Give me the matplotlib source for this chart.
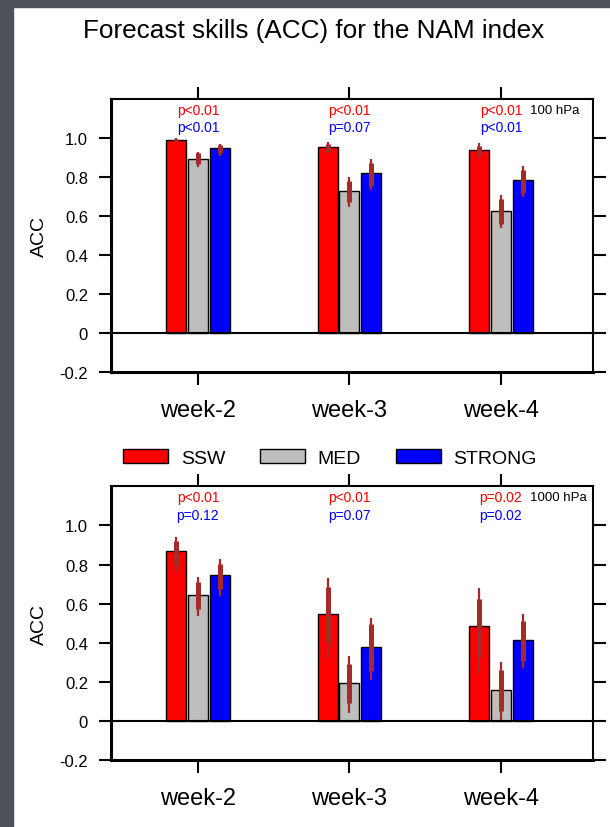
"""Forecast skill (ACC) of the NAM index at 100 and 1000 hPa, two bar panels."""

import matplotlib

matplotlib.use("Agg")
import matplotlib.pyplot as plt
import numpy as np
from matplotlib.patches import Rectangle

plt.rcParams["font.family"] = ["Liberation Sans", "DejaVu Sans"]

weeks = ["week-2", "week-3", "week-4"]
groups = ["SSW", "MED", "STRONG"]
colors = ["#ff0000", "#bebebe", "#0000ff"]
yticks = [-0.2, 0, 0.2, 0.4, 0.6, 0.8, 1.0]
yticklabels = ["-0.2", "0", "0.2", "0.4", "0.6", "0.8", "1.0"]

# 100 hPa
ssw_100 = [0.99, 0.955, 0.937]
med_100 = [0.895, 0.727, 0.626]
strong_100 = [0.947, 0.82, 0.785]
ssw_100_thin = [(0.98, 1.0), (0.923, 0.978), (0.896, 0.974)]
med_100_thin = [(0.85, 0.93), (0.645, 0.80), (0.54, 0.708)]
strong_100_thin = [(0.908, 0.969), (0.735, 0.892), (0.696, 0.858)]
ssw_100_thick = [(0.985, 0.995), (0.93, 0.97), (0.91, 0.96)]
med_100_thick = [(0.867, 0.923), (0.67, 0.78), (0.559, 0.687)]
strong_100_thick = [(0.923, 0.964), (0.755, 0.872), (0.718, 0.836)]
p_ssw_100 = ["p<0.01", "p<0.01", "p<0.01"]
p_strong_100 = ["p<0.01", "p=0.07", "p<0.01"]

# 1000 hPa
ssw_1000 = [0.87, 0.544, 0.487]
med_1000 = [0.643, 0.192, 0.156]
strong_1000 = [0.744, 0.376, 0.412]
ssw_1000_thin = [(0.76, 0.94), (0.322, 0.732), (0.24, 0.68)]
med_1000_thin = [(0.535, 0.735), (0.04, 0.33), (0.0, 0.30)]
strong_1000_thin = [(0.641, 0.826), (0.209, 0.527), (0.269, 0.547)]
ssw_1000_thick = [(0.80, 0.923), (0.402, 0.687), (0.325, 0.624)]
med_1000_thick = [(0.573, 0.71), (0.09, 0.29), (0.048, 0.26)]
strong_1000_thick = [(0.675, 0.804), (0.256, 0.496), (0.305, 0.51)]
p_ssw_1000 = ["p<0.01", "p<0.01", "p=0.02"]
p_strong_1000 = ["p=0.12", "p=0.07", "p=0.02"]

ERR = "#a52a2a"
WIDTH = 0.132
STEP = 0.145


def draw_panel(ax, values, thin, thick, p_red, p_blue, level):
    x = np.arange(1, len(weeks) + 1)
    handles = []
    for i, (vals, lo_hi, th) in enumerate(zip(values, thin, thick)):
        xpos = x + (i - 1) * STEP
        bars = ax.bar(xpos, vals, WIDTH, color=colors[i], edgecolor="black",
                      linewidth=1.0, zorder=2)
        handles.append(bars)
        ax.vlines(xpos, [a for a, b in lo_hi], [b for a, b in lo_hi],
                  color=ERR, linewidth=1.6, zorder=3)
        ax.vlines(xpos, [a for a, b in th], [b for a, b in th],
                  color=ERR, linewidth=3.6, zorder=3)

    ax.axhline(0, color="black", linewidth=1.5, zorder=4)
    for xi, pr, pb in zip(x, p_red, p_blue):
        ax.text(xi, 1.145, pr, color="red", ha="center", va="center", fontsize=10)
        ax.text(xi, 1.055, pb, color="blue", ha="center", va="center", fontsize=10)
    ax.text(3.19, 1.145, level, color="black", ha="left", va="center", fontsize=9.5)

    ax.set_xlim(0.426, 3.607)
    ax.set_ylim(-0.2, 1.2)
    ax.set_xticks(x)
    ax.set_xticklabels(weeks, fontsize=17)
    ax.set_yticks(yticks)
    ax.set_yticklabels(yticklabels, fontsize=12)
    ax.tick_params(axis="x", direction="out", length=9, width=1.5, pad=11,
                   top=True, labeltop=False)
    ax.tick_params(axis="y", direction="out", length=9, width=1.5, pad=7.5,
                   right=True, labelright=False)
    ax.set_ylabel("ACC", fontsize=14)
    ax.yaxis.set_label_coords(-0.13, 0.5)
    for side in ["top", "right"]:
        ax.spines[side].set_linewidth(1.5)
    for side in ["left", "bottom"]:
        ax.spines[side].set_linewidth(2.2)
    return handles


fig = plt.figure(figsize=(6.10, 8.28), dpi=100)
fig.patch.set_facecolor("white")
fig.patches.append(Rectangle((0, 0), 13 / 610, 1, transform=fig.transFigure,
                             color="#4f5159", zorder=0))
fig.patches.append(Rectangle((0, 1 - 8 / 828), 1, 8 / 828, transform=fig.transFigure,
                             color="#4f5159", zorder=0))

ax_top = fig.add_axes([0.182, 0.550, 0.790, 0.329])
ax_bot = fig.add_axes([0.182, 0.0813, 0.790, 0.330])

handles = draw_panel(ax_top, [ssw_100, med_100, strong_100],
                     [ssw_100_thin, med_100_thin, strong_100_thin],
                     [ssw_100_thick, med_100_thick, strong_100_thick],
                     p_ssw_100, p_strong_100, "100 hPa")
draw_panel(ax_bot, [ssw_1000, med_1000, strong_1000],
           [ssw_1000_thin, med_1000_thin, strong_1000_thin],
           [ssw_1000_thick, med_1000_thick, strong_1000_thick],
           p_ssw_1000, p_strong_1000, "1000 hPa")

fig.text(314 / 610, 1 - 31 / 828, "Forecast skills (ACC) for the NAM index",
         ha="center", va="center", fontsize=18.8)

fig.legend(handles, groups, loc="center", bbox_to_anchor=(330 / 610, 1 - 459 / 828),
           ncol=3, frameon=False, fontsize=14, handlelength=2.3, handleheight=0.7,
           handletextpad=0.65, columnspacing=1.8)

fig.savefig("out.png", dpi=100)
plt.close(fig)
